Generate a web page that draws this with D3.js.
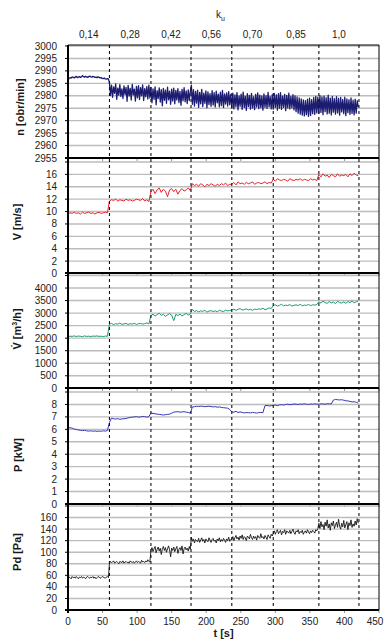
<!DOCTYPE html>
<html>
<head>
<meta charset="utf-8">
<script src="https://cdn.jsdelivr.net/npm/d3@7"></script>
<style>
  body { margin: 0; background: #fff; }
  svg { display: block; font-family: "Liberation Sans", Arial, sans-serif; }
</style>
</head>
<body>
<div id="chart"></div>
<script>
// sampling steps of the recorded series [s]
const FINE_STEP = 1.5;
const COARSE_STEP = 3;

// regulation steps (k_u) and their boundaries in time [s]
const segmentBounds = [0, 60, 120, 178, 237, 297, 363, 421];
const kuLabels = ['0,14', '0,28', '0,42', '0,56', '0,70', '0,85', '1,0'];
const timeTicks = [0, 50, 100, 150, 200, 250, 300, 350, 400, 450];

// rotational speed n [obr/min], every 1.5 s
const nValues = [
  2986.4, 2986.9, 2987.3, 2987.1, 2987.6, 2987.4, 2987.2, 2987.5, 2987.8, 2987.3,
  2987.5, 2987.7, 2987.4, 2987.6, 2988.1, 2987.7, 2987.5, 2987.8, 2987.6, 2987.4,
  2987.7, 2987.9, 2987.6, 2987.5, 2987.8, 2987.6, 2987.4, 2987.5, 2987.3, 2987.6,
  2987.4, 2987.2, 2987.3, 2987.0, 2986.9, 2987.1, 2986.8, 2986.7, 2986.9, 2986.8,
  2985.2, 2980.1, 2984.3, 2979.4, 2983.6, 2981.0, 2984.8, 2978.6, 2983.1, 2980.2,
  2984.5, 2979.7, 2982.8, 2978.9, 2984.0, 2980.5, 2983.4, 2977.8, 2984.2, 2979.9,
  2983.0, 2978.3, 2984.6, 2980.4, 2982.7, 2977.9, 2983.8, 2979.2, 2984.1, 2978.5,
  2983.3, 2980.0, 2984.4, 2978.1, 2982.9, 2979.6, 2983.7, 2978.7, 2984.3, 2979.1,
  2983.4, 2977.2, 2982.8, 2978.6, 2983.6, 2976.4, 2982.1, 2978.9, 2983.2, 2977.5,
  2982.5, 2976.0, 2983.0, 2978.2, 2982.3, 2977.0, 2983.5, 2978.4, 2981.9, 2976.6,
  2982.7, 2977.9, 2983.1, 2976.8, 2982.2, 2978.3, 2982.9, 2977.3, 2981.8, 2976.2,
  2982.6, 2978.0, 2983.3, 2977.6, 2982.0, 2976.9, 2982.4, 2978.1, 2981.7,
  2984.3, 2976.6, 2982.5, 2975.9, 2981.8, 2977.1, 2982.3, 2975.4, 2981.4, 2976.8,
  2982.6, 2975.7, 2981.1, 2977.0, 2982.0, 2975.2, 2981.6, 2976.5, 2980.9, 2975.8,
  2982.1, 2976.3, 2981.3, 2975.5, 2981.9, 2977.2, 2980.7, 2975.6, 2981.5, 2976.1,
  2982.2, 2975.3, 2980.8, 2976.7, 2981.2, 2975.9, 2981.7, 2976.4, 2980.6,
  2975.0, 2981.1, 2974.7, 2980.4, 2975.6, 2981.3, 2974.3, 2980.0, 2975.8, 2980.7,
  2974.5, 2981.5, 2975.3, 2979.8, 2974.1, 2980.9, 2975.7, 2980.2, 2974.6, 2981.0,
  2975.1, 2979.6, 2974.4, 2980.6, 2975.5, 2981.2, 2974.8, 2980.3, 2975.2, 2979.9,
  2974.2, 2980.8, 2975.4, 2980.1, 2974.9, 2981.4, 2975.6, 2979.7, 2974.7, 2980.5,
  2974.6, 2981.0, 2975.3, 2980.4, 2974.2, 2980.9, 2975.0, 2981.3, 2974.5, 2979.9,
  2975.4, 2980.6, 2974.0, 2980.2, 2975.1, 2981.1, 2974.7, 2979.8, 2975.2, 2980.5,
  2974.3, 2980.0, 2973.6, 2979.5, 2973.0, 2979.1, 2972.6, 2978.7, 2972.2, 2978.3,
  2971.9, 2978.0, 2972.4, 2978.6, 2971.7, 2979.0, 2972.1, 2978.4, 2972.8, 2979.3,
  2972.5, 2979.8, 2973.1, 2979.4,
  2972.9, 2980.1, 2973.3, 2979.5, 2972.4, 2979.9, 2973.6, 2979.2, 2972.7, 2980.3,
  2973.0, 2979.0, 2972.3, 2979.7, 2973.4, 2978.8, 2972.6, 2979.6, 2973.1, 2978.9,
  2972.2, 2979.3, 2973.5, 2978.5, 2972.8, 2979.4, 2972.0, 2978.7, 2973.2, 2978.4,
  2972.5, 2979.1, 2972.9, 2978.2, 2972.3, 2978.6, 2973.0, 2978.0, 2975.5
];

// air velocity V [m/s], every 3 s
const vValues = [
  9.6, 9.8, 9.7, 9.9, 9.7, 9.8, 9.6, 9.9, 9.7, 9.8, 9.9, 9.7, 9.8, 9.6, 9.8, 9.9, 9.7, 9.8, 9.9, 9.8,
  11.7, 11.9, 11.8, 12.0, 11.7, 11.9, 11.8, 11.7, 12.0, 11.8, 11.9, 11.7, 11.8, 12.0, 11.9, 11.8, 12.1, 11.7, 11.9, 11.6,
  13.2, 13.6, 12.9, 13.5, 13.8, 13.1, 13.6, 13.3, 12.4, 13.5, 13.7, 13.2, 13.6, 12.8, 13.4, 13.7, 13.3, 13.5, 13.8, 13.4,
  14.5, 14.2, 14.4, 14.1, 14.5, 14.3, 14.0, 14.4, 14.2, 14.5, 14.3, 14.1, 14.4, 14.2, 14.5, 14.3, 14.6, 14.2, 14.4,
  14.4, 14.7, 14.3, 14.8, 14.5, 14.6, 14.4, 14.7, 14.5, 14.6, 14.8, 14.4, 14.6, 14.7, 14.5, 14.6, 14.8, 14.5, 14.7, 14.6,
  15.2, 14.9, 15.3, 15.1, 15.0, 15.2, 15.1, 14.9, 15.3, 15.1, 15.0, 15.2, 15.1, 15.3, 15.0, 15.2, 15.1, 15.0, 15.3, 15.1, 15.2, 15.0,
  16.0, 15.6, 16.1, 15.7, 15.9, 15.5, 16.0, 15.8, 15.6, 16.1, 15.7, 15.9, 15.8, 16.0, 15.6, 16.1, 15.8, 16.2, 15.9, 15.8
];

// volume flow [m3/h], every 3 s
const qValues = [
  2060, 2080, 2070, 2090, 2065, 2085, 2075, 2060, 2090, 2070, 2080, 2065, 2085, 2075, 2090, 2070, 2080, 2060, 2085, 2075,
  2560, 2590, 2540, 2580, 2560, 2600, 2550, 2570, 2590, 2545, 2580, 2560, 2595, 2550, 2575, 2590, 2560, 2580, 2610, 2570,
  2900, 2960, 2880, 2940, 2990, 2910, 2950, 2870, 2930, 2980, 2920, 2700, 2950, 2900, 2960, 2880, 2940, 2990, 2920, 2960,
  3150, 3060, 3100, 3050, 3090, 3070, 3110, 3040, 3080, 3100, 3060, 3090, 3050, 3110, 3080, 3060, 3120, 3090, 3100,
  3130, 3160, 3110, 3150, 3180, 3120, 3140, 3170, 3130, 3150, 3110, 3160, 3140, 3170, 3150, 3190, 3140, 3160, 3210, 3180,
  3300, 3330, 3280, 3310, 3350, 3290, 3320, 3300, 3340, 3280, 3310, 3330, 3300, 3350, 3290, 3320, 3310, 3340, 3300, 3330, 3320, 3340,
  3450, 3400, 3480, 3420, 3390, 3460, 3410, 3440, 3380, 3470, 3420, 3400, 3450, 3390, 3460, 3420, 3480, 3410, 3450, 3480
];

// power P [kW], every 3 s
const pValues = [
  6.15, 6.12, 6.10, 6.02, 5.98, 5.95, 5.92, 5.90, 5.92, 5.88, 5.86, 5.88, 5.85, 5.87, 5.84, 5.86, 5.85, 5.88, 5.86, 5.90,
  6.55, 6.90, 6.85, 6.82, 6.86, 6.80, 6.84, 6.85, 6.88, 6.92, 6.95, 6.98, 7.00, 7.02, 6.98, 7.00, 7.04, 7.02, 6.98, 7.02,
  7.30, 7.28, 7.25, 7.22, 7.20, 7.18, 7.15, 7.18, 7.20, 7.22, 7.30, 7.38, 7.40, 7.42, 7.38, 7.40, 7.42, 7.38, 7.36, 7.30,
  7.80, 7.82, 7.85, 7.84, 7.86, 7.85, 7.82, 7.84, 7.86, 7.83, 7.80, 7.82, 7.78, 7.80, 7.76, 7.74, 7.72, 7.70, 7.60,
  7.40, 7.38, 7.45, 7.35, 7.40, 7.36, 7.32, 7.35, 7.34, 7.32, 7.36, 7.34, 7.30, 7.35, 7.36, 7.34, 7.90, 7.92, 7.88, 7.90,
  7.92, 7.95, 7.90, 7.96, 7.98, 7.95, 8.00, 8.02, 7.98, 8.00, 8.04, 8.02, 8.00, 8.03, 8.02, 8.05, 8.02, 8.00, 8.04, 8.02, 8.05, 8.03,
  8.02, 8.05, 8.04, 8.02, 8.06, 8.05, 8.04, 8.35, 8.40, 8.38, 8.36, 8.38, 8.34, 8.30, 8.28, 8.25, 8.20, 8.22, 8.18, 8.10
];

// dynamic pressure Pd [Pa], every 1.5 s
const pdValues = [
  55, 57, 56, 54, 58, 56, 57, 55, 58, 56, 54, 57, 56, 58, 55, 57, 56, 54, 57, 58,
  56, 55, 57, 56, 58, 55, 57, 54, 56, 58, 57, 55, 56, 58, 57, 56, 55, 57, 58, 56,
  81, 84, 82, 83, 85, 81, 83, 84, 82, 80, 84, 83, 82, 85, 81, 83, 84, 82, 83, 81,
  85, 83, 82, 84, 81, 83, 85, 82, 84, 83, 81, 86, 83, 84, 82, 85, 83, 87, 84, 83,
  103, 108, 101, 106, 110, 99, 105, 109, 102, 107, 96, 106, 110, 103, 108, 100, 106, 111, 104, 92,
  107, 103, 109, 101, 106, 110, 98, 105, 108, 103, 111, 97, 106, 109, 104, 107, 102, 110, 105,
  126, 119, 123, 116, 122, 120, 118, 124, 117, 121, 125, 119, 122, 116, 123, 120, 118, 125, 121, 117,
  122, 124, 119, 121, 116, 123, 120, 125, 118, 122, 119, 124, 121, 117, 123, 120, 126, 119, 122,
  122, 127, 120, 125, 129, 123, 126, 121, 128, 124, 130, 122, 127, 125, 120, 128, 126, 123, 131, 125,
  122, 128, 124, 127, 121, 129, 126, 124, 132, 125, 127, 123, 129, 126, 122, 130, 127, 124, 131, 128,
  133, 137, 131, 136, 139, 132, 135, 138, 130, 136, 134, 139, 131, 137, 135, 133, 138, 132, 136, 140,
  134, 131, 137, 135, 139, 132, 136, 134, 138, 131, 135, 137, 133, 139, 135, 132, 137, 134, 138, 136,
  133, 139, 137, 141,
  150, 141, 153, 144, 148, 139, 152, 145, 156, 142, 149, 138, 151, 146, 154, 141, 147, 152, 143, 157,
  145, 140, 150, 144, 155, 142, 148, 153, 139, 151, 146, 156, 143, 149, 145, 154, 147, 158, 150
];

// gridlines and labelled ticks of each panel
const nGrid = [2955, 2960, 2965, 2970, 2975, 2980, 2985, 2990, 2995, 3000];
const nLabels = nGrid;
const vGrid = [0, 2, 4, 6, 8, 10, 12, 14, 16, 18];
const vLabels = [0, 2, 4, 6, 8, 10, 12, 14, 16];
const qGrid = [0, 500, 1000, 1500, 2000, 2500, 3000, 3500, 4000, 4500];
const qLabels = [0, 500, 1000, 1500, 2000, 2500, 3000, 3500, 4000];
const pGrid = [0, 1, 2, 3, 4, 5, 6, 7, 8, 9];
const pLabels = [0, 1, 2, 3, 4, 5, 6, 7, 8];
const pdGrid = [0, 20, 40, 60, 80, 100, 120, 140, 160, 180];
const pdLabels = [0, 20, 40, 60, 80, 100, 120, 140, 160];

const W = 384, H = 639;
const plotLeft = 68, plotRight = 379, plotTop = 45;

const panels = [
  { values: nValues, step: FINE_STEP, grid: nGrid, labels: nLabels, color: '#1c1c72', width: 1.3, box: [45, 158], yRange: [158, 46], title: 'n [obr/min]', tx: 24, ty: 107 },
  { values: vValues, step: COARSE_STEP, grid: vGrid, labels: vLabels, color: '#e8242c', width: 1, box: [158, 273], yRange: [273.5, 162], title: 'V [m/s]', tx: 21, ty: 222 },
  { values: qValues, step: COARSE_STEP, grid: qGrid, labels: qLabels, color: '#1e9a6c', width: 1, box: [273, 388], yRange: [388.3, 275.5], title: 'qdot', tx: 21, ty: 329 },
  { values: pValues, step: COARSE_STEP, grid: pGrid, labels: pLabels, color: '#3636b4', width: 1, box: [388, 504], yRange: [504, 392], title: 'P [kW]', tx: 22, ty: 455 },
  { values: pdValues, step: FINE_STEP, grid: pdGrid, labels: pdLabels, color: '#151515', width: 0.9, box: [504, 610], yRange: [610, 506], title: 'Pd [Pa]', tx: 21, ty: 552 }
];

const svg = d3.select('#chart').append('svg')
  .attr('width', W).attr('height', H);

const x = d3.scaleLinear().domain([0, 450]).range([plotLeft, plotRight]);
const plotBottom = panels[panels.length - 1].box[1];

panels.forEach(p => {
  const y = d3.scaleLinear().domain([p.grid[0], p.grid[p.grid.length - 1]]).range(p.yRange);
  const g = svg.append('g');

  // horizontal gridlines
  g.selectAll('line.grid').data(p.grid).enter().append('line')
    .attr('x1', plotLeft).attr('x2', plotRight)
    .attr('y1', d => y(d)).attr('y2', d => y(d))
    .attr('stroke', '#bcbcbc').attr('stroke-width', 1.4);

  // left ticks + labels
  g.selectAll('line.tick').data(p.grid).enter().append('line')
    .attr('x1', plotLeft - 3).attr('x2', plotLeft)
    .attr('y1', d => y(d)).attr('y2', d => y(d))
    .attr('stroke', '#000').attr('stroke-width', 1);

  g.selectAll('text.lab').data(p.labels).enter().append('text')
    .attr('x', plotLeft - 11).attr('y', d => y(d) + 3.5)
    .attr('text-anchor', 'end')
    .style('font-size', '10px').style('fill', '#222')
    .text(d => d);

  // small time ticks below the panel's axis line
  g.selectAll('line.xt').data(timeTicks).enter().append('line')
    .attr('x1', d => x(d)).attr('x2', d => x(d))
    .attr('y1', p.box[1]).attr('y2', p.box[1] + 3)
    .attr('stroke', '#777').attr('stroke-width', 0.8);

  // series
  const line = d3.line()
    .x((d, i) => x(i * p.step))
    .y(d => y(d));
  g.append('path').datum(p.values)
    .attr('d', line)
    .attr('fill', 'none')
    .attr('stroke', p.color)
    .attr('stroke-width', p.width)
    .attr('stroke-linejoin', 'round');

  // panel axis line (bottom)
  g.append('line')
    .attr('x1', plotLeft - 3).attr('x2', plotRight)
    .attr('y1', p.box[1]).attr('y2', p.box[1])
    .attr('stroke', '#000').attr('stroke-width', 2);

  // axis title
  const t = svg.append('text')
    .attr('transform', `translate(${p.tx},${p.ty}) rotate(-90)`)
    .attr('text-anchor', 'middle')
    .style('font-size', '11px').style('font-weight', 'bold').style('fill', '#1a1a1a');
  if (p.title === 'qdot') {
    t.append('tspan').text('V\u0307 [m');
    t.append('tspan').attr('dy', -4).style('font-size', '7px').text('3');
    t.append('tspan').attr('dy', 4).text('/h]');
  } else {
    t.text(p.title);
  }
});

// dashed boundaries of the regulation steps
svg.selectAll('line.seg').data(segmentBounds.slice(1)).enter().append('line')
  .attr('x1', d => x(d)).attr('x2', d => x(d))
  .attr('y1', plotTop).attr('y2', plotBottom)
  .attr('stroke', '#111').attr('stroke-width', 1.1)
  .attr('stroke-dasharray', '3,3');

// frame
svg.append('line').attr('x1', plotLeft).attr('x2', plotRight).attr('y1', plotTop).attr('y2', plotTop)
  .attr('stroke', '#000').attr('stroke-width', 1);
svg.append('line').attr('x1', plotRight).attr('x2', plotRight).attr('y1', plotTop).attr('y2', plotBottom)
  .attr('stroke', '#000').attr('stroke-width', 1);
svg.append('line').attr('x1', plotLeft).attr('x2', plotLeft).attr('y1', plotTop).attr('y2', plotBottom + 3)
  .attr('stroke', '#000').attr('stroke-width', 2);

// k_u labels on top
svg.selectAll('text.ku').data(kuLabels).enter().append('text')
  .attr('x', (d, i) => x((segmentBounds[i] + segmentBounds[i + 1]) / 2))
  .attr('y', 38)
  .attr('text-anchor', 'middle')
  .style('font-size', '10px').style('fill', '#222')
  .text(d => d);

const ku = svg.append('text')
  .attr('x', 216).attr('y', 18)
  .style('font-size', '10px').style('fill', '#222');
ku.append('tspan').text('k');
ku.append('tspan').attr('dy', 3).style('font-size', '7px').text('u');

// bottom time axis
svg.selectAll('text.tt').data(timeTicks).enter().append('text')
  .attr('x', d => Math.min(x(d), W - 9))
  .attr('y', plotBottom + 15)
  .attr('text-anchor', 'middle')
  .style('font-size', '10px').style('fill', '#222')
  .text(d => d);

svg.append('text')
  .attr('x', (plotLeft + plotRight) / 2).attr('y', 637)
  .attr('text-anchor', 'middle')
  .style('font-size', '11px').style('font-weight', 'bold').style('fill', '#1a1a1a')
  .text('t [s]');
</script>
</body>
</html>
